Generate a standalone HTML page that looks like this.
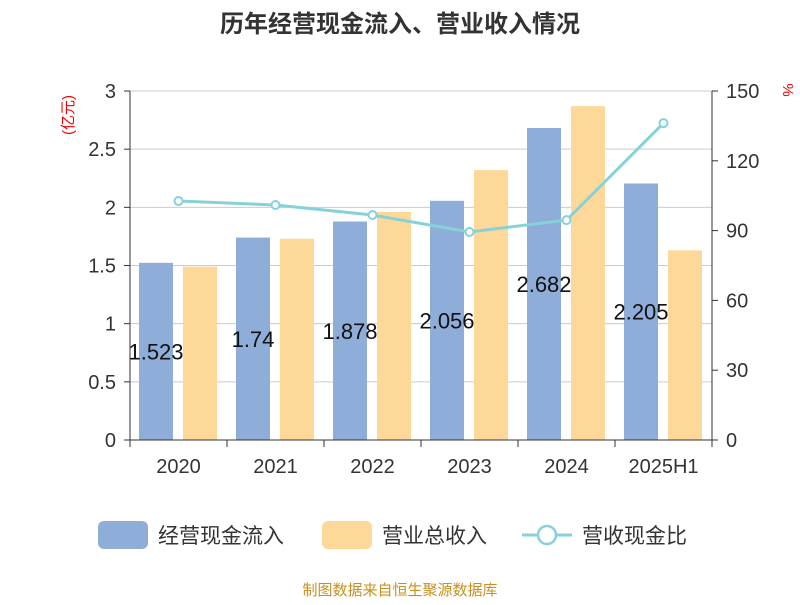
<!DOCTYPE html>
<html><head><meta charset="utf-8"><style>
body{margin:0;background:#fff}
svg text{font-family:"Liberation Sans","Noto Sans CJK SC",sans-serif}
</style></head><body>
<svg id="c" width="800" height="600" xmlns="http://www.w3.org/2000/svg">
<text x="400" y="32" text-anchor="middle" font-size="24" font-weight="bold" fill="#333">历年经营现金流入、营业收入情况</text>
<text transform="translate(73,115) rotate(-90)" text-anchor="middle" font-size="15" fill="#e00">(亿元)</text>
<text transform="translate(783,90) rotate(90)" text-anchor="middle" font-size="15" fill="#e00">%</text>
<g id="grid"></g><g id="marks"></g><g id="axes"></g>
<g>
<rect x="98" y="521" width="50" height="28" rx="6" fill="#8eadd9"/>
<text x="158" y="543" font-size="21" fill="#333">经营现金流入</text>
<rect x="322" y="521" width="50" height="28" rx="6" fill="#fed899"/>
<text x="382" y="543" font-size="21" fill="#333">营业总收入</text>
<line x1="522" y1="535" x2="572" y2="535" stroke="#86d2d8" stroke-width="3"/>
<circle cx="547" cy="535" r="9" fill="#fff" stroke="#86d2d8" stroke-width="2.5"/>
<text x="582" y="543" font-size="21" fill="#333">营收现金比</text>
</g>
<text x="400" y="595" text-anchor="middle" font-size="15" fill="#c8901e">制图数据来自恒生聚源数据库</text>
</svg>
<script>
const categories=["2020","2021","2022","2023","2024","2025H1"];
const cashIn=[1.523,1.74,1.878,2.056,2.682,2.205];
const revenue=[1.49,1.73,1.96,2.32,2.87,1.63];
const ratio=[102.7,101,96.7,89.4,94.5,136.2];
const leftTicks=["0","0.5","1","1.5","2","2.5","3"];
const rightTicks=["0","30","60","90","120","150"];
const NS="http://www.w3.org/2000/svg";
const X0=130,X1=712,Y0=440,Y1=91;
const bw=(X1-X0)/categories.length;
const yL=v=>Y0-(v/3)*(Y0-Y1);
const yR=v=>Y0-(v/150)*(Y0-Y1);
const xc=i=>X0+bw*(i+0.5);
function mk(t,a,p){const e=document.createElementNS(NS,t);for(const k in a)e.setAttribute(k,a[k]);p.appendChild(e);return e;}
const grid=document.getElementById('grid'),marks=document.getElementById('marks'),axes=document.getElementById('axes');
leftTicks.forEach((t,i)=>{const v=parseFloat(t),y=yL(v);
 if(v>0){const g=mk('line',{x1:X0,x2:X1,y1:y,y2:y,stroke:'#ccc','stroke-width':1},grid);
 
 }
 const tk=mk('line',{x1:X0-6,x2:X0,y1:y,y2:y,stroke:'#333'},axes);
 
 
 const tx=mk('text',{x:X0-14,y:y+7,'text-anchor':'end','font-size':20,fill:'#333'},axes);tx.textContent=t;
 
 });
rightTicks.forEach(t=>{const y=yR(parseFloat(t));
 const tk=mk('line',{x1:X1,x2:X1+6,y1:y,y2:y,stroke:'#333'},axes);
 
 
 const tx=mk('text',{x:X1+14,y:y+7,'font-size':20,fill:'#333'},axes);tx.textContent=t;
 
 });
let l=mk('line',{x1:X0,x2:X0,y1:Y1,y2:Y0,stroke:'#333'},axes);


l=mk('line',{x1:X1,x2:X1,y1:Y1,y2:Y0,stroke:'#333'},axes);


l=mk('line',{x1:X0,x2:X1,y1:Y0,y2:Y0,stroke:'#333'},axes);


for(let i=0;i<=categories.length;i++){const x=X0+bw*i;const t=mk('line',{x1:x,x2:x,y1:Y0,y2:Y0+7,stroke:'#333'},axes);
 
 }
categories.forEach((c,i)=>{
 const x=xc(i);
 const b=mk('rect',{x:x-39.5,y:yL(cashIn[i]),width:34,height:Y0-yL(cashIn[i]),fill:'#8eadd9'},marks);
 
 
 const lb=mk('text',{x:x-22.5,y:(yL(cashIn[i])+Y0)/2+8,'text-anchor':'middle','font-size':22,fill:'#111'},marks);lb.textContent=cashIn[i];
 
 
 const tx=mk('text',{x:x,y:473,'text-anchor':'middle','font-size':20,fill:'#333'},axes);tx.textContent=c;
 
 });
categories.forEach((c,i)=>{const x=xc(i);
 const b=mk('rect',{x:x+4.5,y:yL(revenue[i]),width:34,height:Y0-yL(revenue[i]),fill:'#fed899'},marks);
 
 });
const pl=mk('polyline',{points:ratio.map((v,i)=>xc(i)+','+yR(v)).join(' '),fill:'none',stroke:'#86d2d8','stroke-width':3},marks);


ratio.forEach((v,i)=>{const p=mk('circle',{cx:xc(i),cy:yR(v),r:4,fill:'#fff',stroke:'#86d2d8','stroke-width':2},marks);
 
 });
</script>
</body></html>
